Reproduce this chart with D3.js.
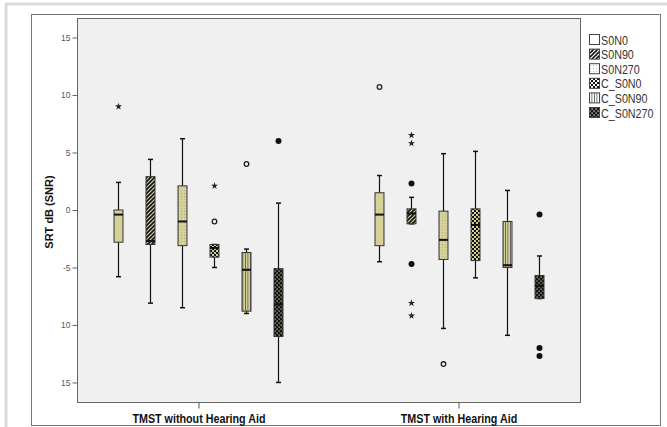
<!DOCTYPE html>
<html><head><meta charset="utf-8">
<script src="https://cdn.jsdelivr.net/npm/d3@7"></script>
<style>body{margin:0;background:#fff;}svg{display:block;font-family:"Liberation Sans",Arial,sans-serif;}</style>
</head><body>
<svg id="c" width="667" height="427"></svg>
<script>
const groups = ["TMST without Hearing Aid", "TMST with Hearing Aid"];
const seriesNames = ["S0N0", "S0N90", "S0N270", "C_S0N0", "C_S0N90", "C_S0N270"];
const yTicks = [15, 10, 5, 0, -5, -10, -15];
const yTickLabels = ["15", "10", "5", "0", "-5", "10", "15"];
// [whiskerLow, q1, median, q3, whiskerHigh] per group per series
const statsWithout = [
  [-5.8, -2.8, -0.4, 0.0, 2.4],
  [-8.1, -3.0, -2.7, 2.9, 4.4],
  [-8.5, -3.1, -1.0, 2.1, 6.2],
  [-5.0, -4.1, -3.3, -3.0, -3.0],
  [-9.0, -8.8, -5.2, -3.7, -3.4],
  [-15.0, -11.0, -8.2, -5.1, 0.6]
];
const statsWith = [
  [-4.5, -3.1, -0.4, 1.5, 3.0],
  [-1.2, -1.2, -0.3, 0.1, 1.1],
  [-10.3, -4.3, -2.6, -0.1, 4.9],
  [-5.9, -4.4, -1.3, 0.1, 5.1],
  [-10.9, -5.0, -4.8, -1.0, 1.7],
  [-7.7, -7.7, -6.6, -5.7, -4.0]
];
// outliers: [groupIndex, seriesIndex, value, kind]
const outliers = [
  [0, 0, 9.0, "star"],
  [0, 3, 2.1, "star"],
  [0, 3, -1.0, "open"],
  [0, 4, 4.0, "open"],
  [0, 5, 6.0, "filled"],
  [1, 0, 10.7, "open"],
  [1, 1, 6.5, "star"],
  [1, 1, 5.8, "star"],
  [1, 1, 2.3, "filled"],
  [1, 1, -4.7, "filled"],
  [1, 1, -8.1, "star"],
  [1, 1, -9.2, "star"],
  [1, 2, -13.4, "open"],
  [1, 5, -0.4, "filled"],
  [1, 5, -12.0, "filled"],
  [1, 5, -12.7, "filled"]
];
const statsByGroup = [statsWithout, statsWith];

const svg = d3.select("#c");
const W = 667, H = 427;
const plot = {x0: 77, x1: 580, y0: 18, y1: 402};
const khaki = "#d6d199";

// page borders
svg.append("rect").attr("x",0).attr("y",0).attr("width",W).attr("height",H).attr("fill","#fff");
svg.append("line").attr("x1",5).attr("x2",W).attr("y1",4).attr("y2",4).attr("stroke","#d9d9d9").attr("stroke-width",3);
svg.append("line").attr("x1",6).attr("x2",6).attr("y1",4).attr("y2",H).attr("stroke","#d9d9d9").attr("stroke-width",3);
svg.append("rect").attr("x",31.5).attr("y",14.5).attr("width",629).attr("height",411).attr("fill","#fff").attr("stroke","#777");

// patterns
const defs = svg.append("defs");
function makePatterns(prefix, bg) {
  let p = defs.append("pattern").attr("id", prefix+"diag").attr("patternUnits","userSpaceOnUse").attr("width",4).attr("height",4);
  p.append("rect").attr("width",4).attr("height",4).attr("fill",bg);
  p.append("path").attr("d","M-1,1 l2,-2 M0,4 l4,-4 M3,5 l2,-2").attr("stroke","#111").attr("stroke-width",1.6);
  p = defs.append("pattern").attr("id", prefix+"dots").attr("patternUnits","userSpaceOnUse").attr("width",3).attr("height",3);
  p.append("rect").attr("width",3).attr("height",3).attr("fill",bg);
  p.append("rect").attr("x",1).attr("y",1).attr("width",0.8).attr("height",0.8).attr("fill","#999");
  p = defs.append("pattern").attr("id", prefix+"check").attr("patternUnits","userSpaceOnUse").attr("width",4).attr("height",4);
  p.append("rect").attr("width",4).attr("height",4).attr("fill",bg);
  p.append("rect").attr("width",2).attr("height",2).attr("fill","#111");
  p.append("rect").attr("x",2).attr("y",2).attr("width",2).attr("height",2).attr("fill","#111");
  p = defs.append("pattern").attr("id", prefix+"vert").attr("patternUnits","userSpaceOnUse").attr("width",2.5).attr("height",4);
  p.append("rect").attr("width",2.5).attr("height",4).attr("fill",bg);
  p.append("rect").attr("x",0).attr("width",0.8).attr("height",4).attr("fill","#555");
  p = defs.append("pattern").attr("id", prefix+"diam").attr("patternUnits","userSpaceOnUse").attr("width",4).attr("height",4);
  p.append("rect").attr("width",4).attr("height",4).attr("fill","#151515");
  p.append("rect").attr("x",0.5).attr("y",0.5).attr("width",1.2).attr("height",1.2).attr("fill",bg);
  p.append("rect").attr("x",2.5).attr("y",2.5).attr("width",1.2).attr("height",1.2).attr("fill",bg);
}
makePatterns("b_", khaki);
makePatterns("l_", "#fff");
const patKey = [null, "diag", "dots", "check", "vert", "diam"];

// plot area
svg.append("rect").attr("x",plot.x0+0.5).attr("y",plot.y0+0.5).attr("width",plot.x1-plot.x0).attr("height",plot.y1-plot.y0)
  .attr("fill","#f0f0f0").attr("stroke","#666");

const y = d3.scaleLinear().domain([-16.7, 16.7]).range([plot.y1, plot.y0]);
const xg = d3.scalePoint().domain(groups).range([plot.x0, plot.x1]).padding(0.467);
const xs = d3.scaleBand().domain(seriesNames).range([-96, 96]).paddingInner(0.72).paddingOuter(0.36);

// y axis
const yAxis = d3.axisLeft(y).tickValues(yTicks).tickSize(5).tickPadding(2)
  .tickFormat((d,i) => yTickLabels[i]);
const ya = svg.append("g").attr("transform",`translate(${plot.x0+0.5},0)`).call(yAxis);
ya.select(".domain").remove();
ya.selectAll(".tick line").attr("stroke","#666");
ya.selectAll(".tick text").attr("font-size",8.5).attr("fill","#555");

// x axis
const xAxis = d3.axisBottom(xg).tickSize(6).tickPadding(3);
const xa = svg.append("g").attr("transform",`translate(0,${plot.y1+0.5})`).call(xAxis);
xa.select(".domain").remove();
xa.selectAll(".tick line").attr("stroke","#555");
xa.selectAll(".tick text").attr("font-size",12.5).attr("font-weight","bold").attr("fill","#111")
  .attr("dy","0.9em").attr("transform","scale(0.86,1)");

// y label
svg.append("text").attr("transform",`translate(53,212) rotate(-90)`).attr("text-anchor","middle")
  .attr("font-size",11).attr("font-weight","bold").attr("fill","#111").text("SRT dB (SNR)");

// boxes
const bw = xs.bandwidth();
groups.forEach((g, gi) => {
  statsByGroup[gi].forEach((s, si) => {
    const cx = Math.round(xg(g) + xs(seriesNames[si]) + bw/2) + 0.5;
    const [lo, q1, med, q3, hi] = s;
    const gEl = svg.append("g");
    gEl.append("line").attr("x1",cx).attr("x2",cx).attr("y1",y(hi)).attr("y2",y(q3)).attr("stroke","#111").attr("stroke-width",1.2);
    gEl.append("line").attr("x1",cx).attr("x2",cx).attr("y1",y(q1)).attr("y2",y(lo)).attr("stroke","#111").attr("stroke-width",1.2);
    gEl.append("line").attr("x1",cx-2.5).attr("x2",cx+2.5).attr("y1",y(hi)).attr("y2",y(hi)).attr("stroke","#111").attr("stroke-width",1.5);
    gEl.append("line").attr("x1",cx-2.5).attr("x2",cx+2.5).attr("y1",y(lo)).attr("y2",y(lo)).attr("stroke","#111").attr("stroke-width",1.5);
    const fill = patKey[si] ? `url(#b_${patKey[si]})` : khaki;
    gEl.append("rect").attr("x",cx-bw/2).attr("width",bw).attr("y",y(q3)).attr("height",y(q1)-y(q3))
      .attr("fill",fill).attr("stroke","#333").attr("stroke-width",1);
    gEl.append("line").attr("x1",cx-bw/2).attr("x2",cx+bw/2).attr("y1",y(med)).attr("y2",y(med)).attr("stroke","#111").attr("stroke-width",2);
  });
});

// outliers
outliers.forEach(([gi, si, v, kind]) => {
  const cx = Math.round(xg(groups[gi]) + xs(seriesNames[si]) + bw/2) + 0.5;
  const cy = y(v);
  if (kind === "star") {
    svg.append("path").attr("d", d3.symbol().type(d3.symbolStar).size(16)()).attr("transform",`translate(${cx},${cy})`).attr("fill","#222");
  } else if (kind === "open") {
    svg.append("circle").attr("cx",cx).attr("cy",cy).attr("r",2.3).attr("fill","none").attr("stroke","#222").attr("stroke-width",1.3);
  } else {
    svg.append("circle").attr("cx",cx).attr("cy",cy).attr("r",3).attr("fill","#111");
  }
});

// legend
const leg = svg.append("g").attr("transform","translate(589,34)");
seriesNames.forEach((n, i) => {
  const gy = i * 14.6;
  const fill = patKey[i] ? `url(#l_${patKey[i]})` : "#fff";
  leg.append("rect").attr("x",0.5).attr("y",gy+0.5).attr("width",10).attr("height",10).attr("fill",fill).attr("stroke","#444");
  leg.append("text").attr("transform",`translate(12,${gy+10.5}) scale(0.86,1)`).attr("font-size",12.5).attr("fill","#333").text(n);
});
</script>
</body></html>
